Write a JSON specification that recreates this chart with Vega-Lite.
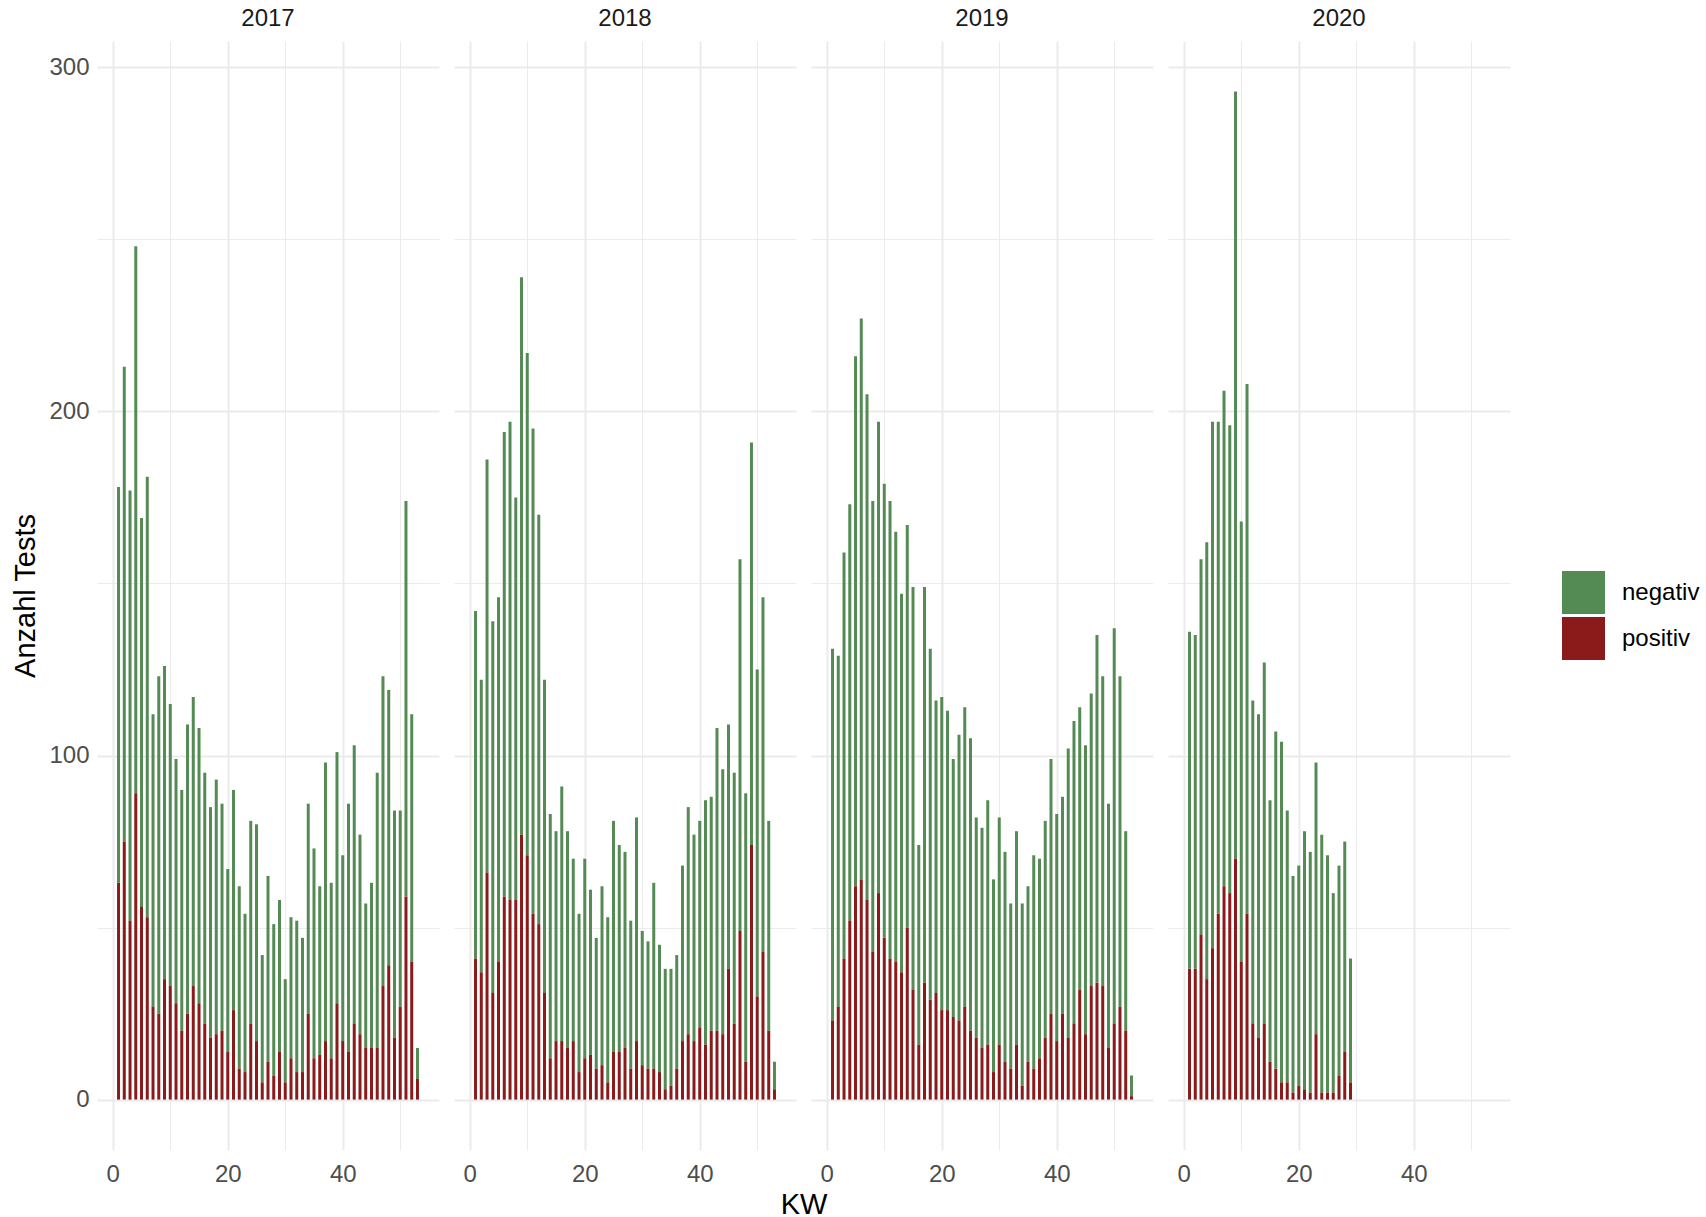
{
"$schema": "https://vega.github.io/schema/vega-lite/v6.json",
"background": "white",
"padding": {"left": 11, "top": 6, "right": 0, "bottom": 0},
"data": {"values": [
{"Jahr":2017,"KW":1,"positiv":63,"negativ":115},{"Jahr":2017,"KW":2,"positiv":75,"negativ":138},{"Jahr":2017,"KW":3,"positiv":52,"negativ":125},{"Jahr":2017,"KW":4,"positiv":89,"negativ":159},{"Jahr":2017,"KW":5,"positiv":56,"negativ":113},{"Jahr":2017,"KW":6,"positiv":53,"negativ":128},{"Jahr":2017,"KW":7,"positiv":27,"negativ":85},{"Jahr":2017,"KW":8,"positiv":25,"negativ":98},{"Jahr":2017,"KW":9,"positiv":35,"negativ":91},{"Jahr":2017,"KW":10,"positiv":33,"negativ":82},
{"Jahr":2017,"KW":11,"positiv":28,"negativ":71},{"Jahr":2017,"KW":12,"positiv":20,"negativ":70},{"Jahr":2017,"KW":13,"positiv":25,"negativ":84},{"Jahr":2017,"KW":14,"positiv":33,"negativ":84},{"Jahr":2017,"KW":15,"positiv":28,"negativ":80},{"Jahr":2017,"KW":16,"positiv":22,"negativ":73},{"Jahr":2017,"KW":17,"positiv":18,"negativ":67},{"Jahr":2017,"KW":18,"positiv":19,"negativ":74},{"Jahr":2017,"KW":19,"positiv":20,"negativ":66},{"Jahr":2017,"KW":20,"positiv":14,"negativ":53},
{"Jahr":2017,"KW":21,"positiv":26,"negativ":64},{"Jahr":2017,"KW":22,"positiv":9,"negativ":53},{"Jahr":2017,"KW":23,"positiv":8,"negativ":46},{"Jahr":2017,"KW":24,"positiv":22,"negativ":59},{"Jahr":2017,"KW":25,"positiv":17,"negativ":63},{"Jahr":2017,"KW":26,"positiv":5,"negativ":37},{"Jahr":2017,"KW":27,"positiv":11,"negativ":54},{"Jahr":2017,"KW":28,"positiv":7,"negativ":44},{"Jahr":2017,"KW":29,"positiv":14,"negativ":44},{"Jahr":2017,"KW":30,"positiv":5,"negativ":30},
{"Jahr":2017,"KW":31,"positiv":12,"negativ":41},{"Jahr":2017,"KW":32,"positiv":8,"negativ":44},{"Jahr":2017,"KW":33,"positiv":8,"negativ":39},{"Jahr":2017,"KW":34,"positiv":25,"negativ":61},{"Jahr":2017,"KW":35,"positiv":12,"negativ":61},{"Jahr":2017,"KW":36,"positiv":13,"negativ":49},{"Jahr":2017,"KW":37,"positiv":17,"negativ":81},{"Jahr":2017,"KW":38,"positiv":12,"negativ":51},{"Jahr":2017,"KW":39,"positiv":28,"negativ":73},{"Jahr":2017,"KW":40,"positiv":17,"negativ":54},
{"Jahr":2017,"KW":41,"positiv":14,"negativ":72},{"Jahr":2017,"KW":42,"positiv":22,"negativ":81},{"Jahr":2017,"KW":43,"positiv":19,"negativ":58},{"Jahr":2017,"KW":44,"positiv":15,"negativ":42},{"Jahr":2017,"KW":45,"positiv":15,"negativ":48},{"Jahr":2017,"KW":46,"positiv":15,"negativ":80},{"Jahr":2017,"KW":47,"positiv":33,"negativ":90},{"Jahr":2017,"KW":48,"positiv":39,"negativ":80},{"Jahr":2017,"KW":49,"positiv":18,"negativ":66},{"Jahr":2017,"KW":50,"positiv":27,"negativ":57},
{"Jahr":2017,"KW":51,"positiv":59,"negativ":115},{"Jahr":2017,"KW":52,"positiv":40,"negativ":72},{"Jahr":2017,"KW":53,"positiv":6,"negativ":9},
{"Jahr":2018,"KW":1,"positiv":41,"negativ":101},{"Jahr":2018,"KW":2,"positiv":37,"negativ":85},{"Jahr":2018,"KW":3,"positiv":66,"negativ":120},{"Jahr":2018,"KW":4,"positiv":31,"negativ":108},{"Jahr":2018,"KW":5,"positiv":40,"negativ":106},{"Jahr":2018,"KW":6,"positiv":59,"negativ":135},{"Jahr":2018,"KW":7,"positiv":58,"negativ":139},{"Jahr":2018,"KW":8,"positiv":58,"negativ":117},{"Jahr":2018,"KW":9,"positiv":77,"negativ":162},{"Jahr":2018,"KW":10,"positiv":71,"negativ":146},
{"Jahr":2018,"KW":11,"positiv":54,"negativ":141},{"Jahr":2018,"KW":12,"positiv":51,"negativ":119},{"Jahr":2018,"KW":13,"positiv":31,"negativ":91},{"Jahr":2018,"KW":14,"positiv":12,"negativ":71},{"Jahr":2018,"KW":15,"positiv":17,"negativ":61},{"Jahr":2018,"KW":16,"positiv":17,"negativ":74},{"Jahr":2018,"KW":17,"positiv":15,"negativ":63},{"Jahr":2018,"KW":18,"positiv":17,"negativ":53},{"Jahr":2018,"KW":19,"positiv":8,"negativ":46},{"Jahr":2018,"KW":20,"positiv":12,"negativ":58},
{"Jahr":2018,"KW":21,"positiv":13,"negativ":48},{"Jahr":2018,"KW":22,"positiv":9,"negativ":38},{"Jahr":2018,"KW":23,"positiv":10,"negativ":52},{"Jahr":2018,"KW":24,"positiv":5,"negativ":48},{"Jahr":2018,"KW":25,"positiv":14,"negativ":67},{"Jahr":2018,"KW":26,"positiv":14,"negativ":60},{"Jahr":2018,"KW":27,"positiv":15,"negativ":57},{"Jahr":2018,"KW":28,"positiv":9,"negativ":43},{"Jahr":2018,"KW":29,"positiv":17,"negativ":65},{"Jahr":2018,"KW":30,"positiv":10,"negativ":39},
{"Jahr":2018,"KW":31,"positiv":9,"negativ":37},{"Jahr":2018,"KW":32,"positiv":9,"negativ":54},{"Jahr":2018,"KW":33,"positiv":8,"negativ":37},{"Jahr":2018,"KW":34,"positiv":3,"negativ":35},{"Jahr":2018,"KW":35,"positiv":4,"negativ":34},{"Jahr":2018,"KW":36,"positiv":9,"negativ":33},{"Jahr":2018,"KW":37,"positiv":17,"negativ":51},{"Jahr":2018,"KW":38,"positiv":19,"negativ":66},{"Jahr":2018,"KW":39,"positiv":17,"negativ":60},{"Jahr":2018,"KW":40,"positiv":21,"negativ":60},
{"Jahr":2018,"KW":41,"positiv":16,"negativ":71},{"Jahr":2018,"KW":42,"positiv":20,"negativ":68},{"Jahr":2018,"KW":43,"positiv":20,"negativ":88},{"Jahr":2018,"KW":44,"positiv":19,"negativ":77},{"Jahr":2018,"KW":45,"positiv":38,"negativ":71},{"Jahr":2018,"KW":46,"positiv":22,"negativ":73},{"Jahr":2018,"KW":47,"positiv":49,"negativ":108},{"Jahr":2018,"KW":48,"positiv":11,"negativ":78},{"Jahr":2018,"KW":49,"positiv":74,"negativ":117},{"Jahr":2018,"KW":50,"positiv":30,"negativ":95},
{"Jahr":2018,"KW":51,"positiv":43,"negativ":103},{"Jahr":2018,"KW":52,"positiv":20,"negativ":61},{"Jahr":2018,"KW":53,"positiv":3,"negativ":8},
{"Jahr":2019,"KW":1,"positiv":23,"negativ":108},{"Jahr":2019,"KW":2,"positiv":27,"negativ":102},{"Jahr":2019,"KW":3,"positiv":41,"negativ":118},{"Jahr":2019,"KW":4,"positiv":52,"negativ":121},{"Jahr":2019,"KW":5,"positiv":62,"negativ":154},{"Jahr":2019,"KW":6,"positiv":64,"negativ":163},{"Jahr":2019,"KW":7,"positiv":58,"negativ":147},{"Jahr":2019,"KW":8,"positiv":43,"negativ":131},{"Jahr":2019,"KW":9,"positiv":60,"negativ":137},{"Jahr":2019,"KW":10,"positiv":47,"negativ":132},
{"Jahr":2019,"KW":11,"positiv":41,"negativ":133},{"Jahr":2019,"KW":12,"positiv":40,"negativ":125},{"Jahr":2019,"KW":13,"positiv":37,"negativ":110},{"Jahr":2019,"KW":14,"positiv":50,"negativ":117},{"Jahr":2019,"KW":15,"positiv":32,"negativ":117},{"Jahr":2019,"KW":16,"positiv":16,"negativ":58},{"Jahr":2019,"KW":17,"positiv":34,"negativ":115},{"Jahr":2019,"KW":18,"positiv":29,"negativ":102},{"Jahr":2019,"KW":19,"positiv":31,"negativ":85},{"Jahr":2019,"KW":20,"positiv":26,"negativ":91},
{"Jahr":2019,"KW":21,"positiv":26,"negativ":87},{"Jahr":2019,"KW":22,"positiv":24,"negativ":75},{"Jahr":2019,"KW":23,"positiv":23,"negativ":83},{"Jahr":2019,"KW":24,"positiv":27,"negativ":87},{"Jahr":2019,"KW":25,"positiv":20,"negativ":85},{"Jahr":2019,"KW":26,"positiv":18,"negativ":64},{"Jahr":2019,"KW":27,"positiv":15,"negativ":64},{"Jahr":2019,"KW":28,"positiv":16,"negativ":71},{"Jahr":2019,"KW":29,"positiv":8,"negativ":56},{"Jahr":2019,"KW":30,"positiv":16,"negativ":66},
{"Jahr":2019,"KW":31,"positiv":11,"negativ":61},{"Jahr":2019,"KW":32,"positiv":9,"negativ":48},{"Jahr":2019,"KW":33,"positiv":16,"negativ":62},{"Jahr":2019,"KW":34,"positiv":4,"negativ":53},{"Jahr":2019,"KW":35,"positiv":11,"negativ":51},{"Jahr":2019,"KW":36,"positiv":9,"negativ":62},{"Jahr":2019,"KW":37,"positiv":12,"negativ":58},{"Jahr":2019,"KW":38,"positiv":18,"negativ":63},{"Jahr":2019,"KW":39,"positiv":25,"negativ":74},{"Jahr":2019,"KW":40,"positiv":17,"negativ":66},
{"Jahr":2019,"KW":41,"positiv":25,"negativ":63},{"Jahr":2019,"KW":42,"positiv":18,"negativ":84},{"Jahr":2019,"KW":43,"positiv":22,"negativ":88},{"Jahr":2019,"KW":44,"positiv":32,"negativ":82},{"Jahr":2019,"KW":45,"positiv":19,"negativ":84},{"Jahr":2019,"KW":46,"positiv":33,"negativ":85},{"Jahr":2019,"KW":47,"positiv":34,"negativ":101},{"Jahr":2019,"KW":48,"positiv":33,"negativ":90},{"Jahr":2019,"KW":49,"positiv":15,"negativ":71},{"Jahr":2019,"KW":50,"positiv":22,"negativ":115},
{"Jahr":2019,"KW":51,"positiv":27,"negativ":96},{"Jahr":2019,"KW":52,"positiv":20,"negativ":58},{"Jahr":2019,"KW":53,"positiv":1,"negativ":6},
{"Jahr":2020,"KW":1,"positiv":38,"negativ":98},{"Jahr":2020,"KW":2,"positiv":38,"negativ":97},{"Jahr":2020,"KW":3,"positiv":48,"negativ":109},{"Jahr":2020,"KW":4,"positiv":35,"negativ":127},{"Jahr":2020,"KW":5,"positiv":44,"negativ":153},{"Jahr":2020,"KW":6,"positiv":54,"negativ":143},{"Jahr":2020,"KW":7,"positiv":62,"negativ":144},{"Jahr":2020,"KW":8,"positiv":60,"negativ":136},{"Jahr":2020,"KW":9,"positiv":70,"negativ":223},{"Jahr":2020,"KW":10,"positiv":40,"negativ":128},
{"Jahr":2020,"KW":11,"positiv":54,"negativ":154},{"Jahr":2020,"KW":12,"positiv":22,"negativ":94},{"Jahr":2020,"KW":13,"positiv":18,"negativ":94},{"Jahr":2020,"KW":14,"positiv":22,"negativ":105},{"Jahr":2020,"KW":15,"positiv":11,"negativ":76},{"Jahr":2020,"KW":16,"positiv":9,"negativ":98},{"Jahr":2020,"KW":17,"positiv":5,"negativ":99},{"Jahr":2020,"KW":18,"positiv":5,"negativ":79},{"Jahr":2020,"KW":19,"positiv":2,"negativ":63},{"Jahr":2020,"KW":20,"positiv":4,"negativ":64},
{"Jahr":2020,"KW":21,"positiv":3,"negativ":75},{"Jahr":2020,"KW":22,"positiv":2,"negativ":70},{"Jahr":2020,"KW":23,"positiv":19,"negativ":79},{"Jahr":2020,"KW":24,"positiv":2,"negativ":75},{"Jahr":2020,"KW":25,"positiv":2,"negativ":69},{"Jahr":2020,"KW":26,"positiv":2,"negativ":58},{"Jahr":2020,"KW":27,"positiv":7,"negativ":61},{"Jahr":2020,"KW":28,"positiv":14,"negativ":61},{"Jahr":2020,"KW":29,"positiv":5,"negativ":36}
]},
"transform": [{"fold": ["negativ", "positiv"], "as": ["Ergebnis", "n"]}],
"facet": {"column": {"field": "Jahr", "type": "ordinal", "header": {"title": "KW", "titleOrient": "bottom", "titleFontSize": 29, "titleFont": "Liberation Sans", "titleColor": "#000000", "titleFontWeight": "normal", "titlePadding": -5.5, "labelOrient": "top", "labelFontSize": 24, "labelColor": "#1A1A1A", "labelFont": "Liberation Sans", "labelPadding": 10.5}}},
"spacing": 15,
"spec": {
  "width": 342,
  "height": 1109,
  "mark": {"type": "bar", "size": 3},
  "encoding": {
    "x": {"field": "KW", "type": "quantitative", "title": null,
      "scale": {"domain": [-1.875, 55.875], "nice": false, "zero": false},
      "axis": {"values": [0, 10, 20, 30, 40, 50], "labelExpr": "datum.value % 20 === 0 ? datum.label : ''", "labelFlush": false, "labelOverlap": false, "labelPadding": 12,
        "gridWidth": {"condition": {"test": "datum.value % 20 === 0", "value": 2}, "value": 1}}},
    "y": {"field": "n", "type": "quantitative", "title": "Anzahl Tests", "stack": "zero",
      "scale": {"domain": [-14.65, 307.65], "nice": false, "zero": false},
      "axis": {"values": [0, 50, 100, 150, 200, 250, 300], "labelExpr": "datum.value % 100 === 0 ? datum.label : ''", "labelFlush": false, "labelOverlap": false, "labelPadding": 8, "titlePadding": 8,
        "gridWidth": {"condition": {"test": "datum.value % 100 === 0", "value": 2}, "value": 1}}},
    "color": {"field": "Ergebnis", "type": "nominal",
      "scale": {"domain": ["negativ", "positiv"], "range": ["#548B54", "#8B1A1A"]},
      "legend": {"title": null, "orient": "none", "legendX": 1465, "legendY": 530, "symbolType": "square", "symbolSize": 1849, "symbolStrokeWidth": 0, "symbolOpacity": 1, "labelFontSize": 24, "labelFont": "Liberation Sans", "labelColor": "#000000", "labelOffset": 17, "rowPadding": 3}},
    "order": {"field": "Ergebnis", "sort": "descending"}
  }
},
"config": {
  "view": {"stroke": null},
  "axis": {"domain": false, "ticks": false, "gridColor": "#EBEBEB", "labelFontSize": 24, "labelColor": "#4D4D4D", "labelFont": "Liberation Sans", "titleFont": "Liberation Sans", "titleFontSize": 29, "titleFontWeight": "normal", "titleColor": "#000000"}
}
}
